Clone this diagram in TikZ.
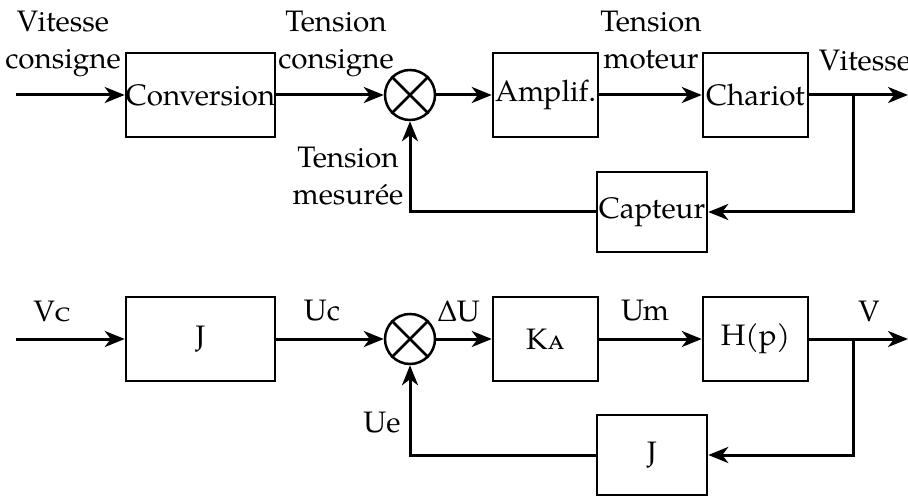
\documentclass[tikz,border=0pt]{standalone}
\usepackage{fontspec}
\setmainfont{texgyrepagella-regular.otf}[BoldFont=texgyrepagella-bold.otf,ItalicFont=texgyrepagella-italic.otf]
\usetikzlibrary{arrows.meta}
\begin{document}
\begin{tikzpicture}[x=0.5pt,y=-0.5pt,
  every node/.style={font=\fontsize{14.8}{18.5}\selectfont},
  blk/.style={draw, line width=1.25pt, minimum height=42pt, inner sep=0pt},
  fbk/.style={draw, line width=1.25pt, minimum height=40pt, minimum width=55pt, inner sep=0pt},
  sumc/.style={draw, circle, line width=1.25pt, minimum size=25pt, inner sep=0pt},
  lbl/.style={align=center, inner sep=0pt},
  conn/.style={line width=1.5pt},
  arr/.style={conn, -{Stealth[length=10pt,width=8pt,inset=3pt]}}
]
\useasboundingbox (0,0) rectangle (908,496);
% ---------- top diagram ----------
\coordinate (in1) at (16,95);
\node[blk, minimum width=74.5pt] (conv) at (200.5,95) {Conversion};
\node[sumc] (s1) at (410,95) {};
\draw[line width=1.25pt] (s1.45) -- (s1.225) (s1.135) -- (s1.315);
\node[blk, minimum width=52.5pt] (amp) at (545.5,95) {Amplif.};
\node[blk, minimum width=52.5pt] (char) at (755.5,95) {Chariot};
\node[fbk] (capt) at (652,212) {Capteur};
\coordinate (out1) at (908,95);
\coordinate (br1) at (853,95);

\draw[arr] (in1) -- (conv.west);
\draw[arr] (conv.east) -- (s1.west);
\draw[arr] (s1.east) -- (amp.west);
\draw[arr] (amp.east) -- (char.west);
\draw[arr] (char.east) -- (out1);
\draw[arr] (br1) |- (capt.east);
\draw[arr] (capt.west) -| (s1.south);

\node[lbl] (l1) at (63,44) {Vitesse\\consigne};
\node[lbl] (l2) at (336,44) {Tension\\consigne};
\node[lbl] (l3) at (651,40) {Tension\\moteur};
\node[lbl] (l4) at (865,61) {Vitesse};
\node[lbl] (l5) at (348,176) {Tension\\mesurée};

% ---------- bottom diagram ----------
\coordinate (in2) at (16,339);
\node[blk, minimum width=74.5pt] (jb) at (200.5,339) {J};
\node[sumc] (s2) at (410,339) {};
\draw[line width=1.25pt] (s2.45) -- (s2.225) (s2.135) -- (s2.315);
\node[blk, minimum width=52.5pt] (ka) at (545.5,339) {K\textsc{a}};
\node[blk, minimum width=52.5pt] (hp) at (755.5,339) {H(p)};
\node[fbk] (jf) at (652,455) {J};
\coordinate (out2) at (908,339);
\coordinate (br2) at (853,339);

\draw[arr] (in2) -- (jb.west);
\draw[arr] (jb.east) -- (s2.west);
\draw[arr] (s2.east) -- (ka.west);
\draw[arr] (ka.east) -- (hp.west);
\draw[arr] (hp.east) -- (out2);
\draw[arr] (br2) |- (jf.east);
\draw[arr] (jf.west) -| (s2.south);

\node[lbl] (m1) at (52,311) {V\textsc{c}};
\node[lbl] (m2) at (322,311) {Uc};
\node[lbl] (m3) at (459,311) {ΔU};
\node[lbl] (m4) at (645,311) {Um};
\node[lbl] (m5) at (869,311) {V};
\node[lbl] (m6) at (382,423) {Ue};
\end{tikzpicture}
\end{document}
